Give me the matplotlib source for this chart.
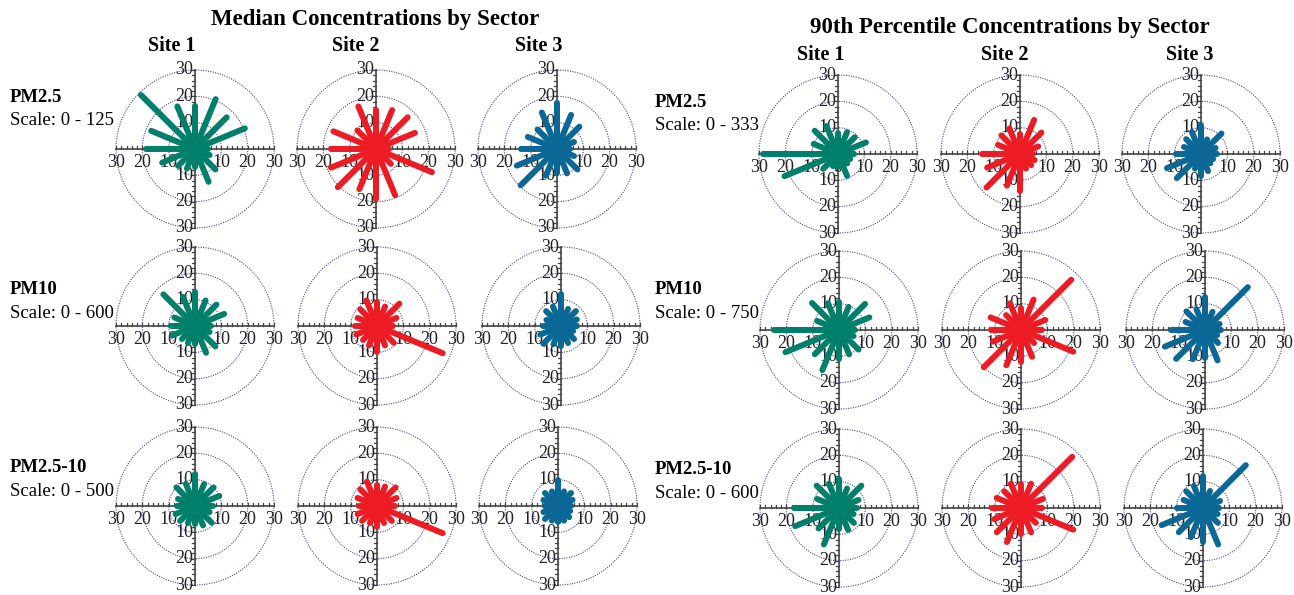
import numpy as np
import matplotlib.pyplot as plt

plt.rcParams['font.family'] = ['Liberation Serif', 'DejaVu Serif']

# 16 wind sectors, compass degrees (N = 0, clockwise)
sectors = ['N', 'NNE', 'NE', 'ENE', 'E', 'ESE', 'SE', 'SSE',
           'S', 'SSW', 'SW', 'WSW', 'W', 'WNW', 'NW', 'NNW']
sector_deg = np.arange(16) * 22.5

site_names = ['Site 1', 'Site 2', 'Site 3']
pollutants = ['PM2.5', 'PM10', 'PM2.5-10']
median_scales = ['Scale: 0 - 125', 'Scale: 0 - 600', 'Scale: 0 - 500']
p90_scales = ['Scale: 0 - 333', 'Scale: 0 - 750', 'Scale: 0 - 600']

# median concentrations (scaled 0-30), order follows `sectors`
med_pm25_s1 = [16.5, 20.5, 17, 20.5, 5, 6, 11, 13.5, 7, 8, 9, 13.5, 18.5, 18, 29, 17.5]
med_pm25_s2 = [15, 16, 17, 16, 5, 23, 8, 19, 19, 16.5, 20.5, 18.5, 17, 17.5, 10, 17.5]
med_pm25_s3 = [17.5, 14, 12, 7, 5, 7, 11, 10, 9, 11, 19.5, 16.5, 13.5, 12, 10.5, 15]
med_pm10_s1 = [13, 10.5, 11.5, 12, 6, 6, 11, 11, 7, 7, 7, 9.3, 9.3, 8.5, 17, 12]
med_pm10_s2 = [9, 8, 12, 8, 6, 27, 9, 8, 10, 8, 7.5, 8.5, 8.5, 8, 9, 10.5]
med_pm10_s3 = [12, 7, 8, 6.5, 6, 5, 7, 7, 7.5, 7.5, 9.5, 8.5, 7, 6, 8, 8]
med_coarse_s1 = [12, 9, 10, 10, 7, 6, 9, 8, 7, 7, 8, 8, 7, 7, 10, 9]
med_coarse_s2 = [8, 8, 10, 8, 7, 27, 8, 7, 8, 7, 8, 8, 7, 8, 9, 10]
med_coarse_s3 = [10, 6, 7, 6, 5, 5, 6, 6, 6, 6, 7, 6, 5, 6, 7, 6]

# 90th percentile concentrations (scaled 0-30)
p90_pm25_s1 = [8, 9, 9, 11.5, 6, 5, 5, 9, 5, 5, 8, 22, 28.5, 10, 12.5, 11.5]
p90_pm25_s2 = [7.5, 14, 11.5, 7.5, 5, 6, 6, 6, 14, 13, 18, 13.5, 14.5, 9, 10, 10.5]
p90_pm25_s3 = [11, 6, 11, 6, 6, 5, 5, 7, 8.5, 6, 13, 14, 9.5, 7, 8, 9]
p90_pm10_s1 = [10.5, 9.5, 14, 12.5, 6, 6, 10.5, 10, 11, 16.5, 13, 22, 24.5, 9, 14.5, 11]
p90_pm10_s2 = [8.5, 12.5, 27, 10, 8, 21.5, 7, 11, 12, 14.5, 20, 11.5, 11.5, 12.5, 8, 11]
p90_pm10_s3 = [12.5, 7.5, 23, 6, 6, 5, 7, 12.5, 10.5, 12, 15.5, 16.5, 13, 8, 10, 8.5]
p90_coarse_s1 = [11, 8, 12, 8, 7, 6, 8, 9, 8, 15, 11, 18, 17, 9, 12, 10]
p90_coarse_s2 = [9, 10, 27.5, 9, 8, 21.5, 8, 10, 10, 14, 13, 11, 11, 10, 9, 10]
p90_coarse_s3 = [12, 7, 23, 7, 6, 6, 8, 15, 13, 12, 13, 17, 10, 8, 9, 9]

median_rows = [[med_pm25_s1, med_pm25_s2, med_pm25_s3],
               [med_pm10_s1, med_pm10_s2, med_pm10_s3],
               [med_coarse_s1, med_coarse_s2, med_coarse_s3]]
p90_rows = [[p90_pm25_s1, p90_pm25_s2, p90_pm25_s3],
            [p90_pm10_s1, p90_pm10_s2, p90_pm10_s3],
            [p90_coarse_s1, p90_coarse_s2, p90_coarse_s3]]

site_colors = ['#007f6a', '#ed1c24', '#0b6796']

W, H = 1294, 595
fig = plt.figure(figsize=(W / 100, H / 100), dpi=100)

R_PX = 79   # pixel radius of the 30 circle
HALF = 84   # half size of each panel's axes in pixels
LIM = 30 * HALF / R_PX


def panel(cx, cy, values, color):
    ax = fig.add_axes([(cx - HALF) / W, 1 - (cy + HALF) / H, 2 * HALF / W, 2 * HALF / H])
    ax.set_xlim(-LIM, LIM)
    ax.set_ylim(-LIM, LIM)
    ax.set_aspect('equal')
    ax.axis('off')
    t = np.linspace(0, 2 * np.pi, 200)
    for r in (10, 20, 30):
        ax.plot(r * np.cos(t), r * np.sin(t), color='#4b4b8c', lw=0.8, ls=(0, (1, 1.2)),
                clip_on=False, zorder=1)
    ax.plot([-30, 30], [0, 0], color='#444444', lw=1.2, zorder=2, clip_on=False)
    ax.plot([0, 0], [-30, 30], color='#444444', lw=1.2, zorder=2, clip_on=False)
    for v in range(-30, 31, 2):
        if v == 0:
            continue
        ax.plot([v, v], [0, 1.1], color='#444444', lw=0.9, zorder=2, clip_on=False)
        ax.plot([-1.1, 0], [v, v], color='#444444', lw=0.9, zorder=2, clip_on=False)
    for v in (-30, -20, -10, 0, 10, 20, 30):
        ax.text(v, -2.0, str(abs(v)), ha='center', va='top', fontsize=13,
                color='#222222', zorder=3)
        ax.text(-0.6, v, str(abs(v)), ha='right', va='center', fontsize=13,
                color='#222222', zorder=3)
    th = np.deg2rad(sector_deg)
    for a, r in zip(th, values):
        ax.plot([0, r * np.sin(a)], [0, r * np.cos(a)], color=color, lw=4.3,
                solid_capstyle='round', zorder=4, clip_on=False)


def ftext(x, y, s, **kw):
    fig.text(x / W, 1 - y / H, s, **kw)


# panel centres in pixels
med_cx = [[195, 376, 557], [195, 377, 561], [195, 377, 558]]
med_cy = [149, 326, 506]
p90_cx = [[838, 1020, 1201], [839, 1021, 1205], [839, 1021, 1203]]
p90_cy = [154, 330, 508]

for i in range(3):
    for j in range(3):
        panel(med_cx[i][j], med_cy[i], median_rows[i][j], site_colors[j])
        panel(p90_cx[i][j], p90_cy[i], p90_rows[i][j], site_colors[j])

ftext(375, 20, 'Median Concentrations by Sector', ha='center', va='center',
      fontsize=16.5, fontweight='bold')
ftext(1010, 27, '90th Percentile Concentrations by Sector', ha='center', va='center',
      fontsize=16.5, fontweight='bold')

for x, s in zip([172, 356, 539], site_names):
    ftext(x, 46, s, ha='center', va='center', fontsize=14.5, fontweight='bold')
for x, s in zip([821, 1005, 1190], site_names):
    ftext(x, 55, s, ha='center', va='center', fontsize=14.5, fontweight='bold')

for y, p, s in zip([98, 290, 468], pollutants, median_scales):
    ftext(10, y, p, ha='left', va='center', fontsize=13.5, fontweight='bold')
    ftext(10, y + 23, s, ha='left', va='center', fontsize=13.5)
for y, p, s in zip([102, 290, 470], pollutants, p90_scales):
    ftext(655, y, p, ha='left', va='center', fontsize=13.5, fontweight='bold')
    ftext(655, y + 23, s, ha='left', va='center', fontsize=13.5)

fig.savefig('out.png', dpi=100)
